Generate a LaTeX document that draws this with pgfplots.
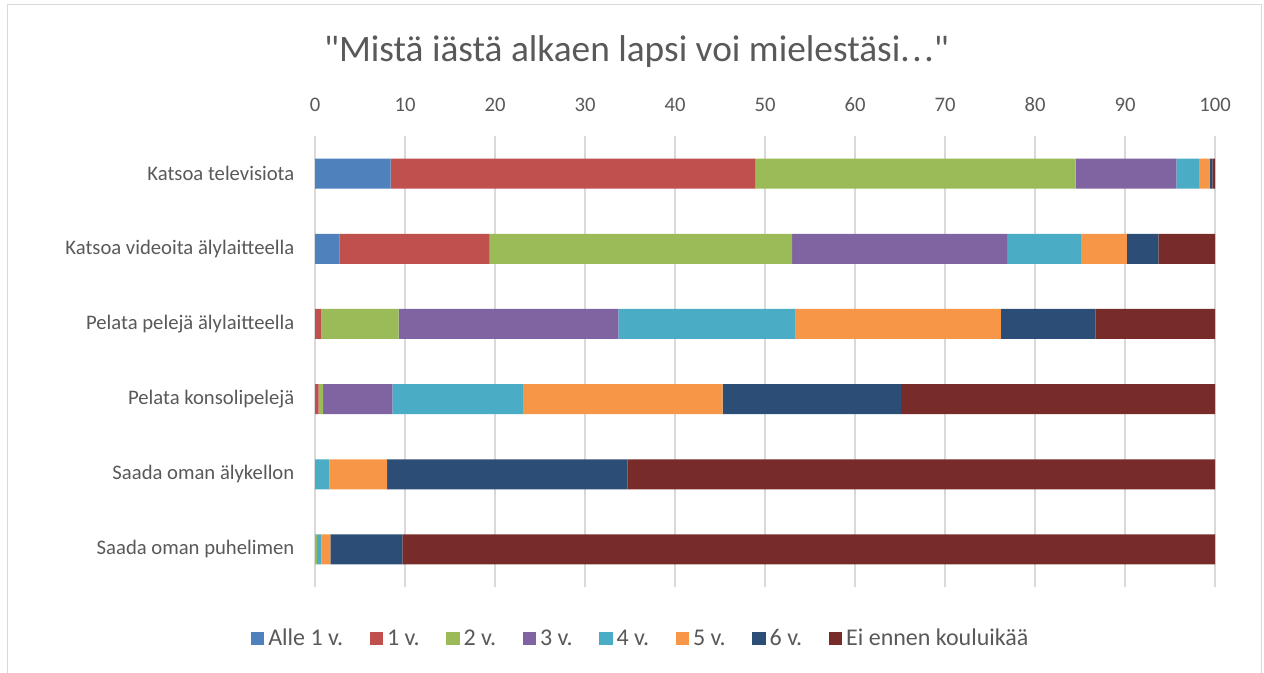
\documentclass[border=0pt]{standalone}
\usepackage{pgfplots}
\pgfplotsset{compat=1.18}
\usepackage{pgfplotstable}
\usepackage{fontspec}
\setmainfont{Carlito}[Ligatures=TeXOff]

\definecolor{txt}{HTML}{595959}
\definecolor{gridc}{HTML}{D9D9D9}
\definecolor{c1}{HTML}{4F81BD}
\definecolor{c2}{HTML}{C0504D}
\definecolor{c3}{HTML}{9BBB59}
\definecolor{c4}{HTML}{8064A2}
\definecolor{c5}{HTML}{4BACC6}
\definecolor{c6}{HTML}{F79646}
\definecolor{c7}{HTML}{2C4D75}
\definecolor{c8}{HTML}{772C2A}

% share of answers (%) per age, one row per question
\pgfplotstableread{
idx alle1 v1   v2   v3   v4   v5   v6   ei
0   8.4   40.5 35.6 11.2 2.5  1.2  0.3  0.3
1   2.7   16.7 33.6 23.9 8.2  5.1  3.5  6.3
2   0     0.7  8.6  24.4 19.7 22.8 10.5 13.3
3   0     0.4  0.5  7.7  14.5 22.2 19.8 34.9
4   0     0    0    0    1.6  6.4  26.7 65.3
5   0     0    0.2  0    0.5  1.0  8.0  90.3
}\data

\begin{document}
\begin{tikzpicture}
\useasboundingbox (0,0) rectangle (948pt,504pt);
\draw[gridc, line width=0.75pt] (5.25pt,-3pt) rectangle (945.75pt,500.25pt);
\node[anchor=base, text=txt, font=\fontsize{28}{32}\selectfont] at (477.4pt,457.5pt)
  {"Mistä iästä alkaen lapsi voi mielestäsi.\kern2pt.\kern2pt."};
\begin{axis}[
  at={(236.25pt,63.75pt)}, anchor=south west,
  scale only axis, width=675pt, height=338.25pt,
  xbar stacked, bar width=22.5pt,
  xmin=0, xmax=100, ymin=-0.5, ymax=5.5, y dir=reverse,
  xtick={0,10,...,100}, ytick={0,...,5},
  yticklabels={Katsoa televisiota, Katsoa videoita älylaitteella,
    Pelata pelejä älylaitteella, Pelata konsolipelejä,
    Saada oman älykellon, Saada oman puhelimen},
  xticklabel pos=upper,
  xmajorgrids, grid style={color=gridc, line width=1pt},
  axis line style={draw=none}, major tick length=0pt,
  tick label style={font=\fontsize{15.5}{18}\selectfont, text=txt},
  /pgf/number format/assume math mode=true,
  xticklabel style={yshift=14.6pt},
  yticklabel style={xshift=-12pt},
  legend style={at={(0.363,-0.114)}, anchor=center, draw=none,
    font=\fontsize{18}{21}\selectfont, text=txt, legend columns=-1,
    nodes={inner xsep=3pt},
    /tikz/every even column/.append style={column sep=17pt}},
  legend image code/.code={\fill[#1] (0pt,-5pt) rectangle (10pt,5pt);},
]
\addplot[fill=c1, draw=none] table[x=alle1, y=idx]{\data};
\addplot[fill=c2, draw=none] table[x=v1, y=idx]{\data};
\addplot[fill=c3, draw=none] table[x=v2, y=idx]{\data};
\addplot[fill=c4, draw=none] table[x=v3, y=idx]{\data};
\addplot[fill=c5, draw=none] table[x=v4, y=idx]{\data};
\addplot[fill=c6, draw=none] table[x=v5, y=idx]{\data};
\addplot[fill=c7, draw=none] table[x=v6, y=idx]{\data};
\addplot[fill=c8, draw=none] table[x=ei, y=idx]{\data};
\legend{Alle 1 v., 1 v., 2 v., 3 v., 4 v., 5 v., 6 v., Ei ennen kouluikää}
\end{axis}
\end{tikzpicture}
\end{document}
